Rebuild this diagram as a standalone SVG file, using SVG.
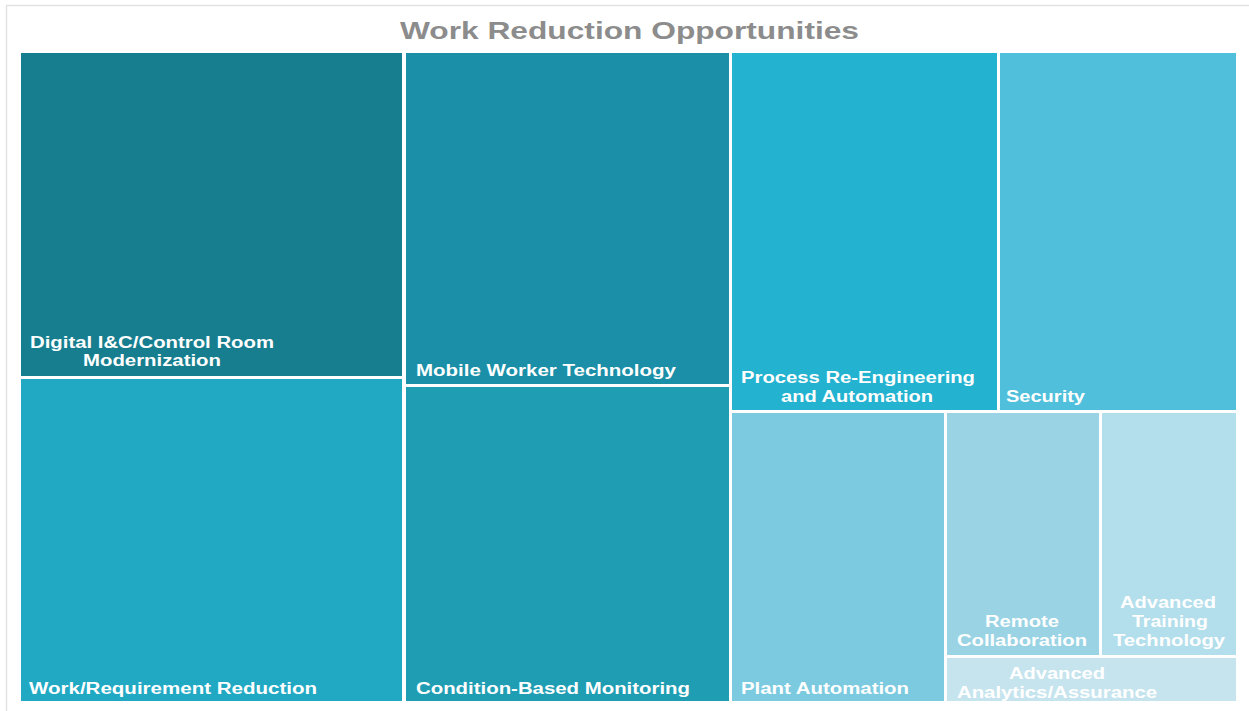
<svg xmlns="http://www.w3.org/2000/svg" width="1249" height="711" viewBox="0 0 1249 711">
<style>
.lbl{font-family:"Liberation Sans",Arial,sans-serif;font-weight:bold;font-size:16px;fill:#FFFFFF}
.title{font-family:"Liberation Sans",Arial,sans-serif;font-weight:bold;font-size:24.5px;fill:#8C8C8C}
</style>
<rect x="0" y="0" width="1249" height="711" fill="#FFFFFF"/>
<rect x="6.5" y="5.5" width="1260" height="720" fill="none" stroke="#E2E2E2" stroke-width="1.5"/>
<text class="title" x="400" y="39" textLength="459" lengthAdjust="spacingAndGlyphs">Work Reduction Opportunities</text>
<g id="digital-ic">
<rect x="21" y="53" width="381" height="323" fill="#177E8F"/>
<text class="lbl" x="30" y="348" textLength="244" lengthAdjust="spacingAndGlyphs">Digital I&amp;C/Control Room</text>
<text class="lbl" x="83" y="366" textLength="138" lengthAdjust="spacingAndGlyphs">Modernization</text>
</g>
<g id="work-requirement">
<rect x="21" y="379" width="381" height="322" fill="#21A9C4"/>
<text class="lbl" x="29" y="694" textLength="288" lengthAdjust="spacingAndGlyphs">Work/Requirement Reduction</text>
</g>
<g id="mobile-worker">
<rect x="406" y="53" width="323" height="331" fill="#1B8FA8"/>
<text class="lbl" x="416" y="376" textLength="260" lengthAdjust="spacingAndGlyphs">Mobile Worker Technology</text>
</g>
<g id="condition-based">
<rect x="406" y="387" width="323" height="314" fill="#1E9DB3"/>
<text class="lbl" x="416" y="694" textLength="274" lengthAdjust="spacingAndGlyphs">Condition-Based Monitoring</text>
</g>
<g id="process-reengineering">
<rect x="732" y="53" width="265" height="357" fill="#23B2D0"/>
<text class="lbl" x="741" y="383" textLength="234" lengthAdjust="spacingAndGlyphs">Process Re-Engineering</text>
<text class="lbl" x="781" y="402" textLength="152" lengthAdjust="spacingAndGlyphs">and Automation</text>
</g>
<g id="security">
<rect x="1000" y="53" width="236" height="357" fill="#4FBFDB"/>
<text class="lbl" x="1006" y="402" textLength="79" lengthAdjust="spacingAndGlyphs">Security</text>
</g>
<g id="plant-automation">
<rect x="732" y="413" width="212" height="288" fill="#7CCADF"/>
<text class="lbl" x="741" y="694" textLength="168" lengthAdjust="spacingAndGlyphs">Plant Automation</text>
</g>
<g id="remote-collaboration">
<rect x="947" y="413" width="152" height="242" fill="#9AD3E4"/>
<text class="lbl" x="985" y="627" textLength="74" lengthAdjust="spacingAndGlyphs">Remote</text>
<text class="lbl" x="957" y="646" textLength="130" lengthAdjust="spacingAndGlyphs">Collaboration</text>
</g>
<g id="advanced-training">
<rect x="1102" y="413" width="134" height="242" fill="#B3DEEB"/>
<text class="lbl" x="1120" y="608" textLength="96" lengthAdjust="spacingAndGlyphs">Advanced</text>
<text class="lbl" x="1132" y="627" textLength="76" lengthAdjust="spacingAndGlyphs">Training</text>
<text class="lbl" x="1113" y="646" textLength="112" lengthAdjust="spacingAndGlyphs">Technology</text>
</g>
<g id="advanced-analytics">
<rect x="947" y="658" width="289" height="43" fill="#C6E4EE"/>
<text class="lbl" x="1009" y="679" textLength="96" lengthAdjust="spacingAndGlyphs">Advanced</text>
<text class="lbl" x="957" y="698" textLength="200" lengthAdjust="spacingAndGlyphs">Analytics/Assurance</text>
</g>
<g id="connectors"></g>
</svg>
